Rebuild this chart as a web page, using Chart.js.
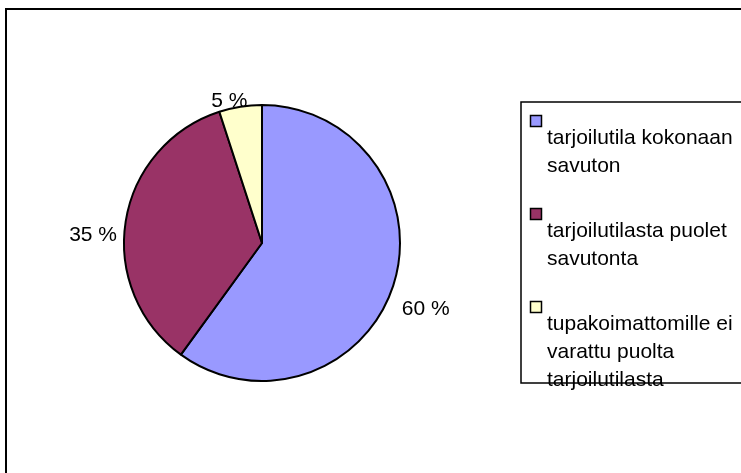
<!DOCTYPE html>
<html>
<head>
<meta charset="utf-8">
<script src="https://cdn.jsdelivr.net/npm/chart.js@4/dist/chart.umd.min.js"></script>
<style>
  html, body { margin: 0; padding: 0; background: #ffffff; }
  #wrap { width: 741px; height: 473px; position: relative; }
</style>
</head>
<body>
<div id="wrap"><canvas id="chart" width="741" height="473"></canvas></div>
<script>
var categories = [
  'tarjoilutila kokonaan savuton',
  'tarjoilutilasta puolet savutonta',
  'tupakoimattomille ei varattu puolta tarjoilutilasta'
];
var shares = [60, 35, 5];
var percentLabels = ['60 %', '35 %', '5 %'];
var sliceColors = ['#9999FF', '#993366', '#FFFFCC'];

var FONT = '21px "Liberation Sans", Arial, sans-serif';

/**
 * @description Outer frame of the chart picture (cut off right and bottom).
 */
var framePlugin = {
  id: 'frame',
  beforeDraw: function (chart) {
    var ctx = chart.ctx;
    ctx.save();
    ctx.fillStyle = '#ffffff';
    ctx.fillRect(0, 0, chart.width, chart.height);
    ctx.strokeStyle = '#000000';
    ctx.lineWidth = 2;
    ctx.strokeRect(6, 9, chart.width + 20, chart.height + 20);
    ctx.restore();
  }
};

/**
 * @description Percent labels outside each slice.
 */
var sliceLabelPlugin = {
  id: 'sliceLabels',
  afterDatasetsDraw: function (chart) {
    var ctx = chart.ctx;
    var arcs = chart.getDatasetMeta(0).data;
    ctx.save();
    ctx.font = FONT;
    ctx.fillStyle = '#000000';
    ctx.textAlign = 'center';
    ctx.textBaseline = 'middle';
    arcs.forEach(function (arc, i) {
      var mid = (arc.startAngle + arc.endAngle) / 2;
      var cos = Math.cos(mid);
      var sin = Math.sin(mid);
      var w = ctx.measureText(percentLabels[i]).width;
      var h = 15;
      var r = arc.outerRadius + 8;
      // Excel pushes outside labels a bit down, top ones a bit left.
      var x = arc.x + cos * r + cos * w / 2 + sin * 7;
      var y = arc.y + sin * r + sin * h / 2 + 17 + sin * 7;
      ctx.fillText(percentLabels[i], x, y);
    });
    ctx.restore();
  }
};

/**
 * @description Wrap text into lines no wider than maxWidth.
 */
function wrapText(ctx, text, maxWidth) {
  var words = text.split(' ');
  var lines = [];
  var line = '';
  words.forEach(function (word) {
    var test = line ? line + ' ' + word : word;
    if (line && ctx.measureText(test).width > maxWidth) {
      lines.push(line);
      line = word;
    } else {
      line = test;
    }
  });
  if (line) {
    lines.push(line);
  }
  return lines;
}

/**
 * @description Legend box at the right: square above wrapped label.
 */
var legendPlugin = {
  id: 'sideLegend',
  afterDraw: function (chart) {
    var ctx = chart.ctx;
    var colors = chart.data.datasets[0].backgroundColor;
    var boxLeft = 521;
    var boxTop = 102;
    var boxBottom = 383;
    var y = 115;
    ctx.save();
    ctx.font = FONT;
    ctx.textBaseline = 'middle';
    ctx.textAlign = 'left';
    chart.data.labels.forEach(function (label, i) {
      ctx.fillStyle = colors[i];
      ctx.fillRect(530.5, y + 0.5, 11, 11);
      ctx.strokeStyle = '#000000';
      ctx.lineWidth = 1.5;
      ctx.strokeRect(530.5, y + 0.5, 11, 11);
      var lines = wrapText(ctx, label, 192);
      ctx.fillStyle = '#000000';
      var lineY = y + 23;
      lines.forEach(function (text, k) {
        lineY = y + 23 + k * 28;
        ctx.fillText(text, 547, lineY);
      });
      y = lineY + 42;
    });
    ctx.strokeStyle = '#000000';
    ctx.lineWidth = 1.5;
    ctx.strokeRect(boxLeft, boxTop, chart.width + 20, boxBottom - boxTop);
    ctx.restore();
  }
};

new Chart(document.getElementById('chart'), {
  type: 'pie',
  data: {
    labels: categories,
    datasets: [{
      data: shares,
      backgroundColor: sliceColors,
      borderColor: '#000000',
      borderWidth: 2
    }]
  },
  options: {
    responsive: false,
    animation: false,
    devicePixelRatio: 1,
    layout: {
      padding: { left: 123, top: 104, right: 340, bottom: 91 }
    },
    plugins: {
      legend: { display: false },
      tooltip: { enabled: false }
    }
  },
  plugins: [framePlugin, sliceLabelPlugin, legendPlugin]
});
</script>
</body>
</html>
